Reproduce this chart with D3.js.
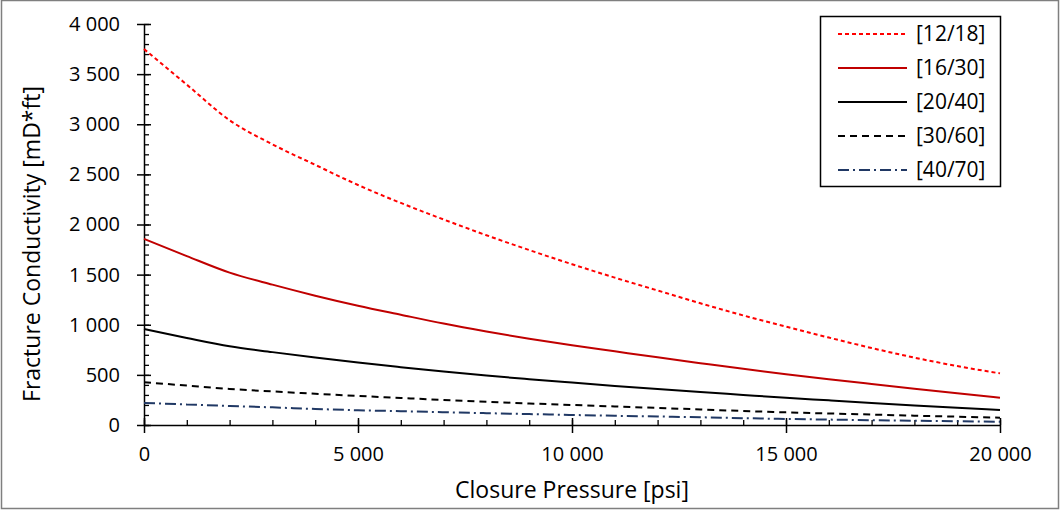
<!DOCTYPE html>
<html>
<head>
<meta charset="utf-8">
<script src="https://d3js.org/d3.v7.min.js"></script>
<style>
  body { margin: 0; background: #fff; }
  svg { display: block; font-family: "Open Sans", sans-serif; }
</style>
</head>
<body>
<script>
// closure pressure, psi
const pressure = [0, 1000, 2000, 3000, 4000, 5000, 6000, 7000, 8000, 9000, 10000,
  11000, 12000, 13000, 14000, 15000, 16000, 17000, 18000, 19000, 20000];

// conductivity per mesh size, mD*ft
const mesh12_18 = [3750, 3395, 3040, 2800, 2595, 2394, 2215, 2050, 1893, 1745, 1604,
  1470, 1342, 1214, 1093, 981, 872, 768, 672, 588, 515];
const mesh16_30 = [1857, 1685, 1520, 1400, 1290, 1190, 1100, 1012, 933, 860, 795,
  735, 675, 617, 560, 507, 457, 409, 362, 316, 272];
const mesh20_40 = [957, 868, 785, 727, 673, 623, 577, 533, 493, 457, 423,
  390, 358, 328, 300, 272, 246, 220, 195, 172, 150];
const mesh30_60 = [427, 393, 360, 335, 312, 290, 270, 250, 232, 215, 200,
  185, 170, 155, 140, 126, 115, 104, 93, 83, 73];
const mesh40_70 = [220, 205, 190, 176, 160, 147, 138, 128, 118, 109, 100,
  92, 85, 77, 68, 60, 54, 48, 42, 37, 32];

const seriesNames = ["[12/18]", "[16/30]", "[20/40]", "[30/60]", "[40/70]"];
const seriesValues = [mesh12_18, mesh16_30, mesh20_40, mesh30_60, mesh40_70];
const seriesColors = ["#ff0000", "#c00000", "#000000", "#000000", "#203864"];
const seriesDash = ["4,3", null, null, "7,5", "11,4,2,4"];

const xTicks = [0, 5000, 10000, 15000, 20000];
const yTicks = [0, 500, 1000, 1500, 2000, 2500, 3000, 3500, 4000];

const w = 1061, h = 511;
const plotL = 144, plotR = 1000, plotT = 24, plotB = 425;

const fmt = v => d3.format(",")(v).replace(/,/g, " ");

const svg = d3.select("body").append("svg")
  .attr("width", w)
  .attr("height", h);

// outer frame
svg.append("rect")
  .attr("x", 1.5).attr("y", 0.5)
  .attr("width", w - 4).attr("height", h - 3)
  .attr("fill", "#fff")
  .attr("stroke", "#7f7f7f")
  .attr("stroke-width", 1.5);

const x = d3.scaleLinear().domain([0, 20000]).range([plotL, plotR]);
const y = d3.scaleLinear().domain([0, 4000]).range([plotB, plotT]);

// minor ticks
svg.append("g")
  .attr("transform", "translate(" + plotL + ",0)")
  .call(d3.axisRight(y).tickValues(d3.range(0, 4001, 100)).tickSize(5).tickFormat(""))
  .call(g => g.select(".domain").remove())
  .selectAll("line").attr("stroke", "#000").attr("stroke-width", 1.3);

svg.append("g")
  .attr("transform", "translate(0," + plotB + ")")
  .call(d3.axisTop(x).tickValues(d3.range(0, 20001, 1000)).tickSize(5).tickFormat(""))
  .call(g => g.select(".domain").remove())
  .selectAll("line").attr("stroke", "#000").attr("stroke-width", 1.3);

// y axis
const yAxis = svg.append("g")
  .attr("transform", "translate(" + plotL + ",0)")
  .call(d3.axisLeft(y).tickValues(yTicks).tickSize(0).tickPadding(24).tickFormat(fmt));
yAxis.select(".domain").attr("stroke", "#000").attr("stroke-width", 1.5);
yAxis.selectAll(".tick line").remove();
yAxis.selectAll(".tick").append("line")
  .attr("x1", -7).attr("x2", 7)
  .attr("stroke", "#000").attr("stroke-width", 1.5);
yAxis.selectAll("text").attr("font-size", 20).attr("fill", "#000")
  .attr("font-family", "Open Sans");

// x axis
const xAxis = svg.append("g")
  .attr("transform", "translate(0," + plotB + ")")
  .call(d3.axisBottom(x).tickValues(xTicks).tickSize(0).tickPadding(22).tickFormat(fmt));
xAxis.select(".domain").attr("stroke", "#000").attr("stroke-width", 1.5);
xAxis.selectAll(".tick line").remove();
xAxis.selectAll(".tick").append("line")
  .attr("y1", -7).attr("y2", 8)
  .attr("stroke", "#000").attr("stroke-width", 1.5);
xAxis.selectAll("text").attr("font-size", 20).attr("fill", "#000")
  .attr("font-family", "Open Sans");

// axis titles
svg.append("text")
  .attr("x", 572)
  .attr("y", 498)
  .attr("text-anchor", "middle")
  .attr("font-size", 23)
  .text("Closure Pressure [psi]");

svg.append("text")
  .attr("transform", "translate(40,244) rotate(-90)")
  .attr("text-anchor", "middle")
  .attr("font-size", 23)
  .text("Fracture Conductivity [mD*ft]");

// curves
const line = d3.line()
  .x((d, i) => x(pressure[i]))
  .y(d => y(d))
  .curve(d3.curveMonotoneX);

seriesValues.forEach((vals, k) => {
  svg.append("path")
    .datum(vals)
    .attr("fill", "none")
    .attr("stroke", seriesColors[k])
    .attr("stroke-width", 2)
    .attr("stroke-dasharray", seriesDash[k])
    .attr("d", line);
});

// legend
const lg = svg.append("g");
lg.append("rect")
  .attr("x", 820.5).attr("y", 16.5)
  .attr("width", 180).attr("height", 170)
  .attr("fill", "#fff")
  .attr("stroke", "#000")
  .attr("stroke-width", 1.5);

seriesNames.forEach((name, k) => {
  const ly = 34 + k * 34;
  lg.append("line")
    .attr("x1", 838).attr("x2", 907)
    .attr("y1", ly).attr("y2", ly)
    .attr("stroke", seriesColors[k])
    .attr("stroke-width", 2)
    .attr("stroke-dasharray", seriesDash[k]);
  lg.append("text")
    .attr("x", 916).attr("y", ly)
    .attr("dy", "0.35em")
    .attr("font-size", 21)
    .text(name);
});
</script>
</body>
</html>
